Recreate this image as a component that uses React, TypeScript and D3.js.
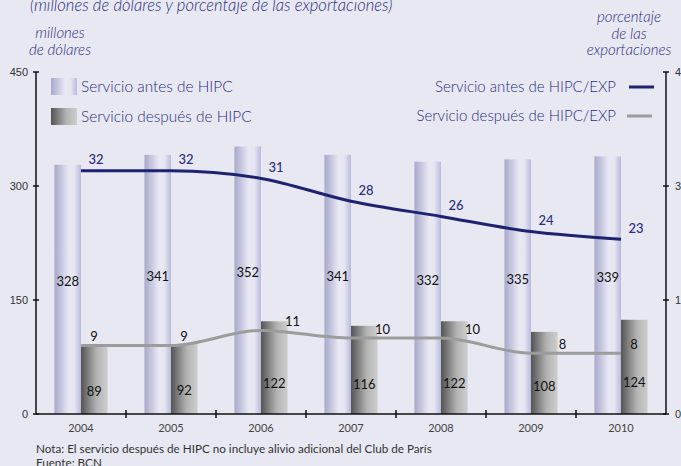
import React from 'react';
import * as d3 from 'd3';

const years = ['2004', '2005', '2006', '2007', '2008', '2009', '2010'];
const antes = [328, 341, 352, 341, 332, 335, 339];
const despues = [89, 92, 122, 116, 122, 108, 124];
const antesPct = [32, 32, 31, 28, 26, 24, 23];
const despuesPct = [9, 9, 11, 10, 10, 8, 8];
const leftTicks = [0, 150, 300, 450];
const rightTicks = [0, 15, 30, 45];

const W = 681;
const H = 466;
const NAVY = '#2b2f7e';
const LINE_NAVY = '#1e2270';
const GRAY_LINE = '#9c9c9c';
const FONT = 'Lato, "Noto Sans", sans-serif';

export default function App() {
  const x = d3.scaleBand<string>().domain(years).range([36, 666]);
  const y = d3.scaleLinear().domain([0, 450]).range([414, 72]);
  const yR = d3.scaleLinear().domain([0, 45]).range([414, 72]);
  const bw = x.bandwidth() * 0.295;
  const cx = (yr: string) => x(yr)! + x.bandwidth() / 2;

  const line = d3.line<number>()
    .x((_, i) => cx(years[i]))
    .y(d => yR(d))
    .curve(d3.curveMonotoneX);

  const last = years.length - 1;

  return (
    <div style={{ position: 'fixed', left: 0, top: 0 }}>
      <svg width={W} height={H} style={{ display: 'block', fontFamily: FONT }}>
        <defs>
          <linearGradient id="gLight" x1="0" x2="1" y1="0" y2="0">
            <stop offset="0" stopColor="#a7a9cb" />
            <stop offset="0.55" stopColor="#e9e9f4" />
            <stop offset="0.75" stopColor="#e6e6f2" />
            <stop offset="1" stopColor="#b8badb" />
          </linearGradient>
          <linearGradient id="gDark" x1="0" x2="1" y1="0" y2="0">
            <stop offset="0" stopColor="#545454" />
            <stop offset="0.6" stopColor="#b4b4b4" />
            <stop offset="1" stopColor="#cdcdcd" />
          </linearGradient>
        </defs>
        <rect width={W} height={H} fill="#e8e8f2" />

        {/* titles */}
        <text x={30} y={11} fontSize={16.6} fontStyle="italic" fill={NAVY} fontWeight={300}>
          (millones de dólares y porcentaje de las exportaciones)
        </text>
        <g fontSize={15} fontStyle="italic" fill={NAVY} fontWeight={300} textAnchor="middle">
          <text x={60} y={38}>millones</text>
          <text x={60} y={55}>de dólares</text>
          <text x={629} y={22}>porcentaje</text>
          <text x={629} y={39}>de las</text>
          <text x={629} y={55}>exportaciones</text>
        </g>

        {/* bars */}
        {years.map((yr, i) => (
          <g key={yr}>
            <rect x={cx(yr) - bw} y={y(antes[i])} width={bw} height={414 - y(antes[i])} fill="url(#gLight)" />
            <rect x={cx(yr)} y={y(despues[i])} width={bw} height={414 - y(despues[i])} fill="url(#gDark)" />
            <text x={cx(yr) - bw / 2} y={414 - (414 - y(antes[i])) * 0.53} dy="0.35em" textAnchor="middle" fontSize={13} fill="#111">{antes[i]}</text>
            <text x={cx(yr) + bw / 2} y={414 - (414 - y(despues[i])) * 0.33} dy="0.35em" textAnchor="middle" fontSize={13} fill="#111">{despues[i]}</text>
          </g>
        ))}

        {/* lines */}
        <path d={line(antesPct)!} fill="none" stroke={LINE_NAVY} strokeWidth={3} />
        <path d={line(despuesPct)!} fill="none" stroke={GRAY_LINE} strokeWidth={3} />
        {antesPct.map((v, i) => (
          <text key={'a' + i} x={cx(years[i]) + 15} y={yR(v) - 11} dy="0.35em" textAnchor="middle" fontSize={13} fill={NAVY} fontWeight={500}>{v}</text>
        ))}
        {despuesPct.map((v, i) => {
          const barTop = y(despues[i]);
          const px = cx(years[i]);
          const beside = barTop < yR(v) - 5 && i < last;
          const lx = beside ? px + bw + 5 : px + 13;
          return (
            <text key={'d' + i} x={lx} y={yR(v) - 9} dy="0.35em" textAnchor="middle" fontSize={13} fill="#111">{v}</text>
          );
        })}

        {/* axes */}
        <g stroke="#111" strokeWidth={1.5}>
          <line x1={36} x2={36} y1={72} y2={414} />
          <line x1={666} x2={666} y1={72} y2={414} />
          <line x1={36} x2={666} y1={414} y2={414} />
          {leftTicks.map(t => <line key={'l' + t} x1={33} x2={39} y1={y(t)} y2={y(t)} />)}
          {rightTicks.map(t => <line key={'r' + t} x1={663} x2={669} y1={yR(t)} y2={yR(t)} />)}
          {years.slice(1).map(yr => <line key={'t' + yr} x1={x(yr)!} x2={x(yr)!} y1={410} y2={418} />)}
        </g>
        <g fontSize={11} fill="#333" fontFamily="'Liberation Sans', Arial, sans-serif">
          {leftTicks.map(t => <text key={t} x={28} y={y(t)} dy="0.35em" textAnchor="end">{t}</text>)}
          {rightTicks.map(t => <text key={t} x={675} y={yR(t)} dy="0.35em">{t}</text>)}
        </g>
        <g fontSize={11} fill="#444" textAnchor="middle">
          {years.map(yr => <text key={yr} x={cx(yr)} y={432}>{yr}</text>)}
        </g>

        {/* legend */}
        <rect x={51} y={78} width={26} height={17} fill="url(#gLight)" />
        <rect x={51} y={108} width={26} height={17} fill="url(#gDark)" />
        <g fontSize={15.4} fill={NAVY} fontWeight={300}>
          <text x={81} y={87} dy="0.35em">Servicio antes de HIPC</text>
          <text x={81} y={117} dy="0.35em">Servicio después de HIPC</text>
        </g>
        <g fontSize={15} fill={NAVY} fontWeight={300} textAnchor="end">
          <text x={616} y={87} dy="0.35em">Servicio antes de HIPC/EXP</text>
          <text x={616} y={116} dy="0.35em">Servicio después de HIPC/EXP</text>
        </g>
        <line x1={629} x2={654} y1={87} y2={87} stroke={LINE_NAVY} strokeWidth={3} />
        <line x1={627} x2={652} y1={116} y2={116} stroke={GRAY_LINE} strokeWidth={3} />

        {/* notes */}
        <g fontSize={11.7} fill="#333">
          <text x={36} y={453}>Nota: El servicio después de HIPC no incluye alivio adicional del Club de París</text>
          <text x={36} y={467}>Fuente: BCN</text>
        </g>
      </svg>
    </div>
  );
}
